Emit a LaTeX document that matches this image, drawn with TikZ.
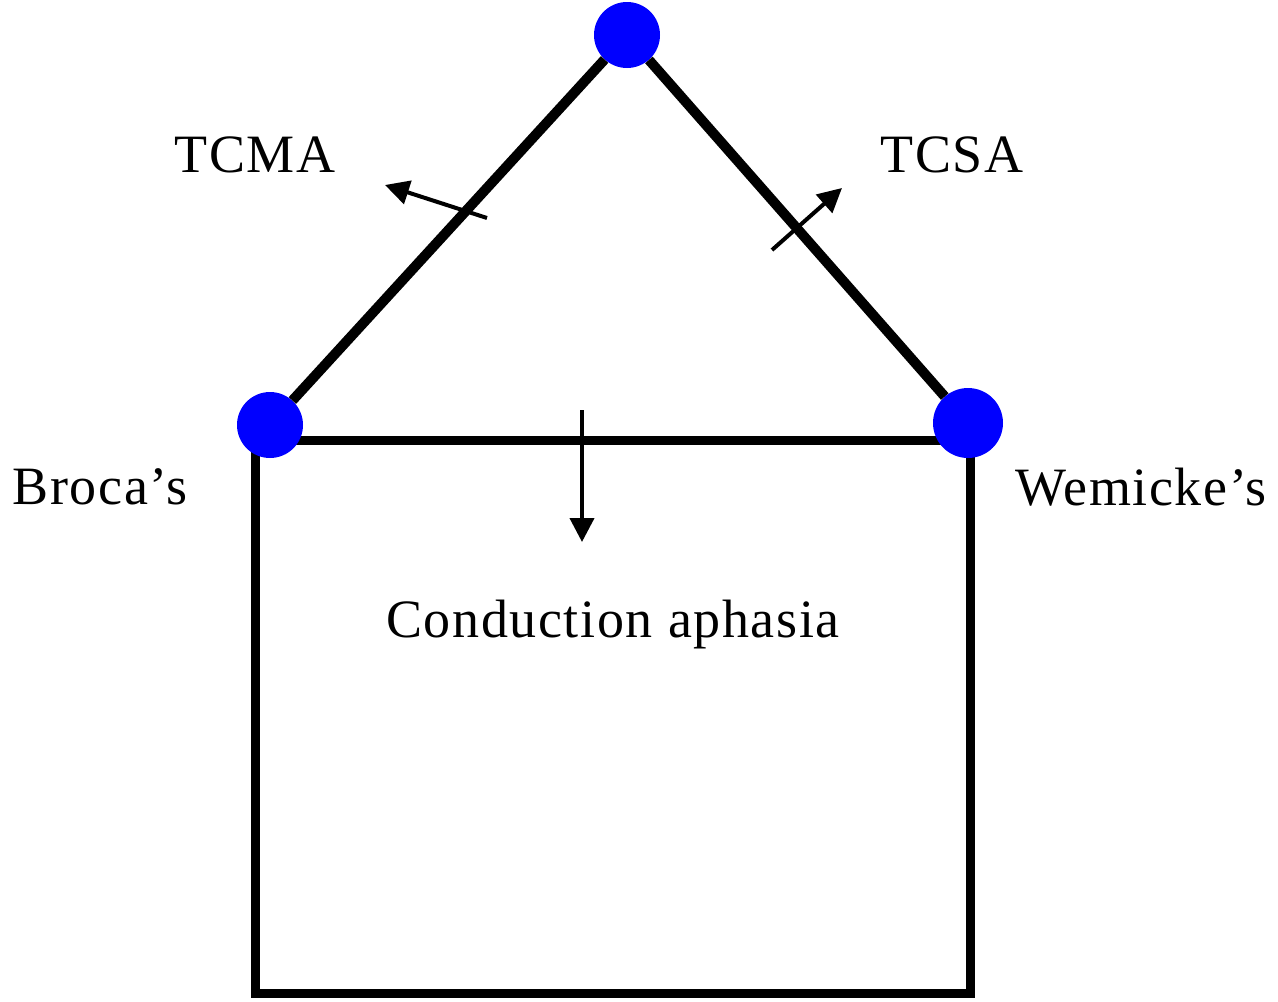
\documentclass[tikz,border=0pt]{standalone}
\usepackage{fontspec}
\setmainfont{Liberation Serif}[LetterSpace=3]
\usetikzlibrary{arrows.meta}
\begin{document}
\begin{tikzpicture}[x=1pt,y=-1pt,
  area/.style={circle,fill=blue,draw=none,minimum size=66pt,inner sep=0pt},
  tract/.style={line width=10pt},
  wall/.style={line width=9pt},
  pointer/.style={line width=4pt,-{Triangle[length=24pt,width=24pt]}},
  lbl/.style={font=\fontsize{54}{60}\selectfont,inner sep=0pt}]
\useasboundingbox (0,0) rectangle (1278,1002);
% box of the conduction pathway
\coordinate (tl) at (255,440);
\coordinate (tr) at (970,440);
\coordinate (bl) at (255,993);
\coordinate (br) at (970,993);
\draw[wall,line join=miter] (tl) -- (bl) -- (br) -- (tr) -- cycle;
% cortical areas
\node[area] (top) at (627,35) {};
\node[area] (broca) at (270,425) {};
\node[area,minimum size=70pt] (wern) at (968,423) {};
\draw[tract] (broca) -- (top);
\draw[tract] (top) -- (wern);
% lesion arrows
\coordinate (a1s) at (487,218);
\coordinate (a1e) at (385,185);
\draw[pointer] (a1s) -- (a1e);
\coordinate (a2s) at (772,250);
\coordinate (a2e) at (842,188);
\draw[pointer] (a2s) -- (a2e);
\coordinate (a3s) at (582,410);
\coordinate (a3e) at (582,542);
\draw[pointer] (a3s) -- (a3e);
% labels
\node[lbl] (tcma) at (255,155) {TCMA};
\node[lbl] (tcsa) at (952,155) {TCSA};
\node[lbl] (bl1) at (100,487) {Broca’s};
\node[lbl] (wl1) at (1141,487) {Wemicke’s};
\node[lbl] (cond) at (613,625) {Conduction aphasia};
\end{tikzpicture}
\end{document}
